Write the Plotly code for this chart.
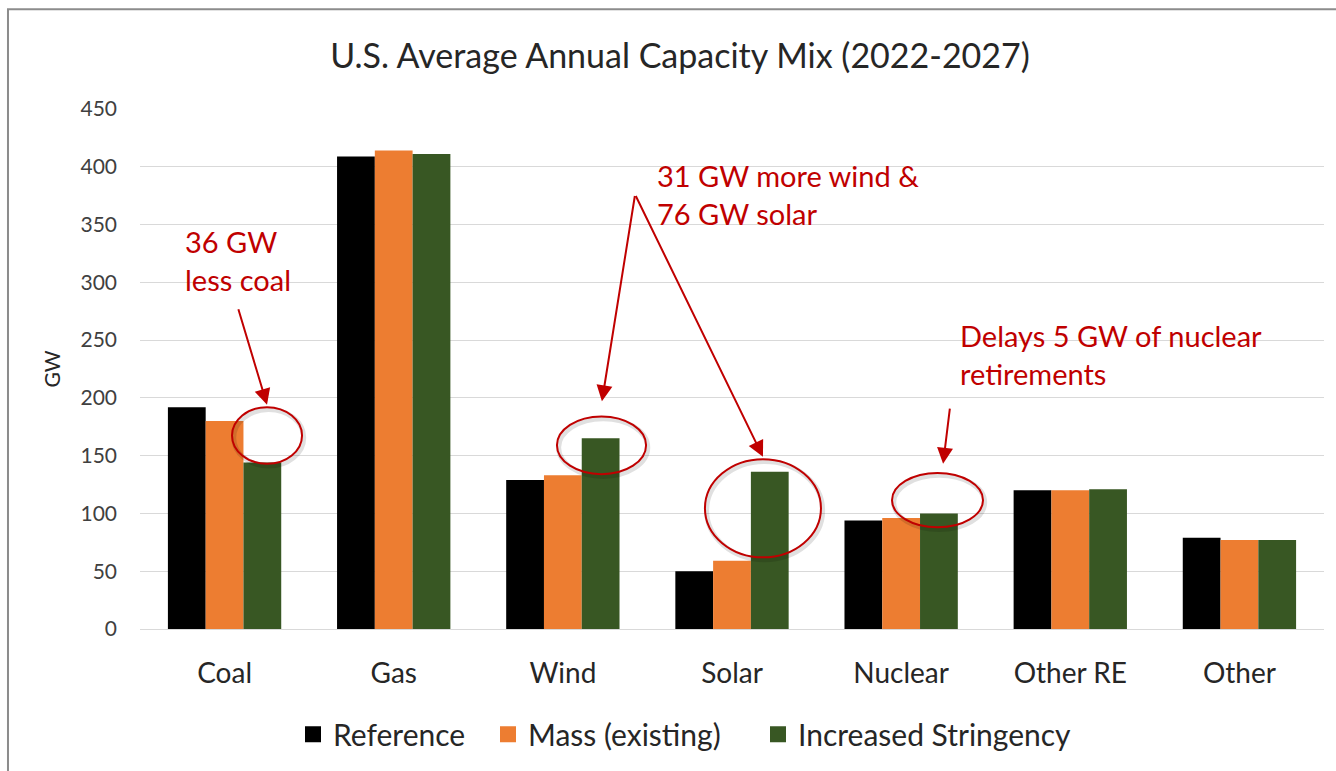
import plotly.graph_objects as go

categories = ["Coal", "Gas", "Wind", "Solar", "Nuclear", "Other RE", "Other"]
reference = [192, 409, 129, 50, 94, 120, 79]
mass_existing = [180, 414, 133, 59, 96, 120, 77]
increased_stringency = [144, 411, 165, 136, 100, 121, 77]

series_names = ["Reference", "Mass (existing)", "Increased Stringency"]
series_colors = ["#000000", "#ED7D31", "#385723"]

RED = "#C00000"
FONT = "Lato, Carlito, Calibri, sans-serif"

# left pixel of each legend square in the reference
legend_px = [305, 500, 770]

fig = go.Figure()
for i, (name, vals, col) in enumerate(zip(series_names,
                                           [reference, mass_existing, increased_stringency],
                                           series_colors)):
    fig.add_trace(go.Bar(name=name, x=categories, y=vals, marker_color=col,
                         marker_line_width=0, showlegend=False))
    # legend-only entry so the square can be sized like the original
    lg = "legend" if i == 0 else f"legend{i + 1}"
    fig.add_trace(go.Scatter(name=name, x=[None], y=[None], mode="markers",
                             marker=dict(symbol="square", size=16, color=col),
                             legend=lg, showlegend=True, hoverinfo="skip"))

# circled highlights (category index units on x, GW on y)
ellipses = [
    (0.044, 0.458, 143, 192),
    (1.965, 2.492, 134, 184),
    (2.840, 3.526, 62, 147),
    (3.946, 4.484, 88, 135),
]
for x0, x1, y0, y1 in ellipses:
    # soft shadow
    fig.add_shape(type="circle", xref="x", yref="y", x0=x0 + 0.01, x1=x1 + 0.01,
                  y0=y0 - 2, y1=y1 - 2, line=dict(color="rgba(0,0,0,0.12)", width=5))
    fig.add_shape(type="circle", xref="x", yref="y", x0=x0, x1=x1, y0=y0, y1=y1,
                  line=dict(color=RED, width=2))

# arrows: (tail x, tail y, head x, head y)
arrows = [
    (0.079, 278, 0.251, 194),
    (2.427, 376, 2.231, 197),
    (2.427, 376, 3.183, 149),
    (4.289, 192, 4.248, 143),
]
for ax, ay, x, y in arrows:
    fig.add_annotation(x=x, y=y, ax=ax, ay=ay, xref="x", yref="y", axref="x", ayref="y",
                       text="", showarrow=True, arrowhead=2, arrowsize=1.6,
                       arrowwidth=2, arrowcolor=RED)

notes = [
    (-0.246, 352, "36 GW<br>less coal"),
    (2.545, 409, "31 GW more wind &<br>76 GW solar"),
    (4.336, 271, "Delays 5 GW of nuclear<br>retirements"),
]
for x, y, txt in notes:
    fig.add_annotation(x=x, y=y, xref="x", yref="y", text=txt, showarrow=False,
                       xanchor="left", yanchor="top", align="left",
                       font=dict(family=FONT, size=29, color=RED))

# outer chart border
fig.add_shape(type="rect", xref="paper", yref="paper", x0=-0.1115, x1=1.02,
              y0=-0.3, y1=1.192, line=dict(color="#8c8c8c", width=2), layer="below")

legend_style = dict(orientation="h", xanchor="left", y=-0.2, yanchor="middle",
                    font=dict(family=FONT, size=30, color="#262626"),
                    itemclick=False, bgcolor="rgba(0,0,0,0)")
legends = {}
for i, px in enumerate(legend_px):
    key = "legend" if i == 0 else f"legend{i + 1}"
    legends[key] = dict(legend_style, x=(px + 8 - 20 - 140) / 1184)

fig.update_layout(
    width=1336, height=771,
    barmode="group", bargap=0.33, bargroupgap=0,
    title=dict(text="U.S. Average Annual Capacity Mix (2022-2027)", x=0.509, xanchor="center",
               y=0.927, yanchor="middle", font=dict(family=FONT, size=34, color="#262626")),
    font=dict(family=FONT, color="#404040"),
    paper_bgcolor="white", plot_bgcolor="white",
    margin=dict(l=140, r=12, t=109, b=141),
    xaxis=dict(showgrid=False, showline=True, linecolor="#d9d9d9", linewidth=1,
               ticks="", tickfont=dict(size=28, color="#262626"), ticklabelstandoff=19),
    yaxis=dict(range=[0, 450], dtick=50, showgrid=True, gridcolor="#d9d9d9", gridwidth=1,
               zeroline=False, showline=False, ticks="",
               tickfont=dict(size=21, color="#404040"), ticklabelstandoff=22,
               title=dict(text="GW", font=dict(size=21, color="#262626"), standoff=14)),
    **legends,
)

fig.write_html("out.html", config={"displayModeBar": False},
               post_script="document.body.style.margin='0';")
